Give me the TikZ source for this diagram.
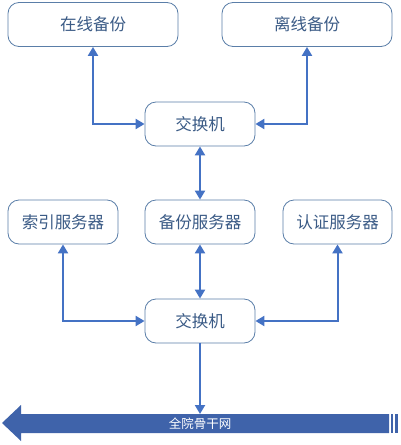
\documentclass[tikz,border=0pt]{standalone}
\usepackage{fontspec}
\setmainfont{Noto Sans CJK SC}
\usetikzlibrary{arrows.meta}
\definecolor{boxline}{HTML}{5A7EA8}
\definecolor{boxtext}{HTML}{3B5B86}
\definecolor{conn}{HTML}{4472C4}
\definecolor{bbfill}{HTML}{3F63AA}
\begin{document}
\begin{tikzpicture}[x=1pt,y=-1pt,
  box/.style={draw=boxline,line width=0.8pt,rounded corners=11pt,fill=white,
    text=boxtext,font=\fontsize{16.5}{18}\selectfont,inner sep=0pt,
    minimum width=#1,minimum height=44pt},
  box/.default=110pt,
  conn/.style={draw=conn,line width=2pt,{Triangle[length=9pt,width=10pt]}-{Triangle[length=9pt,width=10pt]}},
  connone/.style={draw=conn,line width=2pt,-{Triangle[length=9pt,width=10pt]}}]
\useasboundingbox (0,0) rectangle (401,445);
% nodes
\node[box=170pt] (online) at (93,24.5) {在线备份};
\node[box=170pt] (offline) at (307,24.5) {离线备份};
\node[box] (sw1) at (200,124) {交换机};
\node[box] (index) at (63,222) {索引服务器};
\node[box] (backup) at (200,222) {备份服务器};
\node[box=109pt] (auth) at (337.5,222) {认证服务器};
\node[box] (sw2) at (200,321) {交换机};
% backbone arrow
\fill[bbfill] (2,423) -- (21,405) -- (21,414) -- (389,414) -- (389,433) -- (21,433) -- (21,441) -- cycle;
\fill[bbfill] (390.8,414) rectangle (392.6,433);
\fill[bbfill] (395,414) rectangle (397.5,433);
\coordinate (bb) at (200,414);
\node[text=white,font=\fontsize{12.5}{14}\selectfont,inner sep=0pt] (bbtext) at (200,424) {全院骨干网};
% connectors
\draw[conn] (online.south) |- (sw1.west);
\draw[conn] (offline.south) |- (sw1.east);
\draw[conn] (sw1.south) -- (backup.north);
\draw[conn] (index.south) |- (sw2.west);
\draw[conn] (auth.south) |- (sw2.east);
\draw[conn] (backup.south) -- (sw2.north);
\draw[connone] (sw2.south) -- (bb);
\end{tikzpicture}
\end{document}
